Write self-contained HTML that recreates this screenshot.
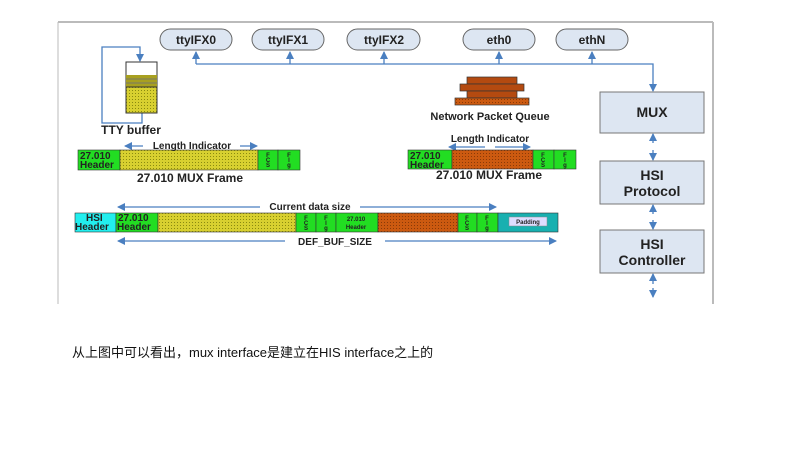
<!DOCTYPE html>
<html><head><meta charset="utf-8"><style>
body{margin:0;width:800px;height:450px;background:#fff;overflow:hidden;position:relative;font-family:"Liberation Sans",sans-serif}
svg{position:absolute;left:0;top:0}
.t{position:absolute;left:72px;top:342px;font-size:13px;color:#111;font-family:"Liberation Sans","Noto Sans CJK SC",sans-serif;white-space:nowrap}
</style></head><body>
<svg width="800" height="450" viewBox="0 0 800 450" font-family="Liberation Sans, sans-serif" font-weight="bold">
<defs>
<pattern id="y" width="3" height="3" patternUnits="userSpaceOnUse"><rect width="3" height="3" fill="#d8d030"/><rect width="1" height="1" fill="#8a8a10"/></pattern>
<pattern id="o" width="3" height="3" patternUnits="userSpaceOnUse"><rect width="3" height="3" fill="#cc5a10"/><rect width="1" height="1" fill="#8a3a08"/></pattern>
<marker id="a" markerWidth="8" markerHeight="8" refX="7" refY="4" orient="auto" markerUnits="userSpaceOnUse"><path d="M0,0 L8,4 L0,8z" fill="#4a7fc0"/></marker>
</defs>
<line x1="58" y1="22" x2="713" y2="22" stroke="#bbb" stroke-width="2"/>
<line x1="58" y1="22" x2="58" y2="304" stroke="#bbb"/>
<line x1="713" y1="22" x2="713" y2="304" stroke="#bbb" stroke-width="2"/>
<g stroke="#4a7fc0" stroke-width="1.3" fill="none">
<polyline points="196,64 653,64 653,91" marker-end="url(#a)"/>
<line x1="196" y1="64" x2="196" y2="52" marker-end="url(#a)"/>
<line x1="290" y1="64" x2="290" y2="52" marker-end="url(#a)"/>
<line x1="384" y1="64" x2="384" y2="52" marker-end="url(#a)"/>
<line x1="499" y1="64" x2="499" y2="52" marker-end="url(#a)"/>
<line x1="592" y1="64" x2="592" y2="52" marker-end="url(#a)"/>
<polyline points="142,113 142,123 102,123 102,47 140,47 140,61" marker-end="url(#a)"/>
<line x1="653" y1="143" x2="653" y2="134" marker-end="url(#a)"/><line x1="653" y1="150" x2="653" y2="160" marker-end="url(#a)"/>
<line x1="653" y1="214" x2="653" y2="205" marker-end="url(#a)"/><line x1="653" y1="220" x2="653" y2="229" marker-end="url(#a)"/>
<line x1="653" y1="284" x2="653" y2="274" marker-end="url(#a)"/><line x1="653" y1="288" x2="653" y2="297" marker-end="url(#a)"/>
<line x1="143" y1="146" x2="125" y2="146" marker-end="url(#a)"/><line x1="240" y1="146" x2="257" y2="146" marker-end="url(#a)"/>
<line x1="472" y1="150" x2="450" y2="150" stroke-width="0"/>
<line x1="480" y1="151" x2="450" y2="151" stroke-width="0"/>
<line x1="485" y1="147" x2="449" y2="147" marker-end="url(#a)"/><line x1="495" y1="147" x2="530" y2="147" marker-end="url(#a)"/>
<line x1="260" y1="207" x2="118" y2="207" marker-end="url(#a)"/><line x1="360" y1="207" x2="496" y2="207" marker-end="url(#a)"/>
<line x1="285" y1="241" x2="118" y2="241" marker-end="url(#a)"/><line x1="385" y1="241" x2="556" y2="241" marker-end="url(#a)"/>
</g>
<g fill="#dde6f2" stroke="#666" stroke-width="1">
<rect x="160" y="29" width="72" height="21" rx="10.5"/><rect x="252" y="29" width="72" height="21" rx="10.5"/><rect x="347" y="29" width="73" height="21" rx="10.5"/><rect x="463" y="29" width="72" height="21" rx="10.5"/><rect x="556" y="29" width="72" height="21" rx="10.5"/>
</g>
<g font-size="12" text-anchor="middle" fill="#222">
<text x="196" y="44">ttyIFX0</text><text x="288" y="44">ttyIFX1</text><text x="384" y="44">ttyIFX2</text><text x="499" y="44">eth0</text><text x="592" y="44">ethN</text>
</g>
<rect x="126" y="62" width="31" height="51" fill="#fff" stroke="#333"/>
<rect x="126" y="75" width="31" height="12" fill="#a8a020"/><line x1="126" y1="79" x2="157" y2="79" stroke="#776"/><line x1="126" y1="83" x2="157" y2="83" stroke="#776"/>
<rect x="126" y="87" width="31" height="26" fill="url(#y)" stroke="#333"/>
<text x="131" y="134" font-size="12" text-anchor="middle" fill="#222">TTY buffer</text>
<g fill="#b44a10" stroke="#333" stroke-width="0.7">
<rect x="467" y="77" width="50" height="7"/><rect x="460" y="84" width="64" height="7"/><rect x="467" y="91" width="50" height="7"/><rect x="455" y="98" width="74" height="7" fill="url(#o)"/>
</g>
<text x="490" y="120" font-size="11" text-anchor="middle" fill="#222">Network Packet Queue</text>
<g fill="#dde6f2" stroke="#777"><rect x="600" y="92" width="104" height="41"/><rect x="600" y="161" width="104" height="43"/><rect x="600" y="230" width="104" height="43"/></g>
<g font-size="14" text-anchor="middle" fill="#222">
<text x="652" y="117">MUX</text><text x="652" y="180">HSI</text><text x="652" y="196">Protocol</text><text x="652" y="249">HSI</text><text x="652" y="265">Controller</text>
</g>
<g stroke="#333" stroke-width="0.6">
<rect x="78" y="150" width="42" height="20" fill="#22dd22"/><rect x="120" y="150" width="138" height="20" fill="url(#y)"/><rect x="258" y="150" width="20" height="20" fill="#22dd22"/><rect x="278" y="150" width="22" height="20" fill="#22dd22"/>
<rect x="408" y="150" width="44" height="19" fill="#22dd22"/><rect x="452" y="150" width="81" height="19" fill="url(#o)"/><rect x="533" y="150" width="21" height="19" fill="#22dd22"/><rect x="554" y="150" width="22" height="19" fill="#22dd22"/>
<rect x="75" y="213" width="41" height="19" fill="#22eeee"/><rect x="116" y="213" width="42" height="19" fill="#22dd22"/><rect x="158" y="213" width="138" height="19" fill="url(#y)"/><rect x="296" y="213" width="20" height="19" fill="#22dd22"/><rect x="316" y="213" width="20" height="19" fill="#22dd22"/><rect x="336" y="213" width="42" height="19" fill="#22dd22"/><rect x="378" y="213" width="80" height="19" fill="url(#o)"/><rect x="458" y="213" width="19" height="19" fill="#22dd22"/><rect x="477" y="213" width="21" height="19" fill="#22dd22"/><rect x="498" y="213" width="60" height="19" fill="#18b0b0"/>
</g>
<rect x="509" y="217" width="38" height="9" fill="#ddf" stroke="#888" stroke-width="0.5"/>
<g font-size="10" fill="#222">
<text x="80" y="159">27.010</text><text x="80" y="168">Header</text>
<text x="410" y="159">27.010</text><text x="410" y="168">Header</text>
<text x="86" y="221">HSI</text><text x="75" y="230">Header</text>
<text x="118" y="221">27.010</text><text x="117" y="230">Header</text>
</g>
<g font-size="6" fill="#222" text-anchor="middle">
<text x="268" y="157">F</text><text x="268" y="162">C</text><text x="268" y="167">S</text><text x="289" y="157">F</text><text x="289" y="162">l</text><text x="289" y="167">g</text>
<text x="543" y="157">F</text><text x="543" y="162">C</text><text x="543" y="167">S</text><text x="565" y="157">F</text><text x="565" y="162">l</text><text x="565" y="167">g</text>
<text x="306" y="220">F</text><text x="306" y="225">C</text><text x="306" y="230">S</text><text x="326" y="220">F</text><text x="326" y="225">l</text><text x="326" y="230">g</text>
<text x="467" y="220">F</text><text x="467" y="225">C</text><text x="467" y="230">S</text><text x="487" y="220">F</text><text x="487" y="225">l</text><text x="487" y="230">g</text>
<text x="356" y="221">27.010</text><text x="356" y="229">Header</text><text x="528" y="224">Padding</text>
</g>
<g font-size="10" text-anchor="middle" fill="#222">
<text x="192" y="149">Length Indicator</text><text x="490" y="142">Length Indicator</text>
<text x="310" y="210">Current data size</text><text x="335" y="245">DEF_BUF_SIZE</text>
</g>
<g font-size="12" text-anchor="middle" fill="#222"><text x="190" y="182">27.010 MUX Frame</text><text x="489" y="179">27.010 MUX Frame</text></g>
</svg>
<div class="t">从上图中可以看出，mux interface是建立在HIS interface之上的</div>
</body></html>
